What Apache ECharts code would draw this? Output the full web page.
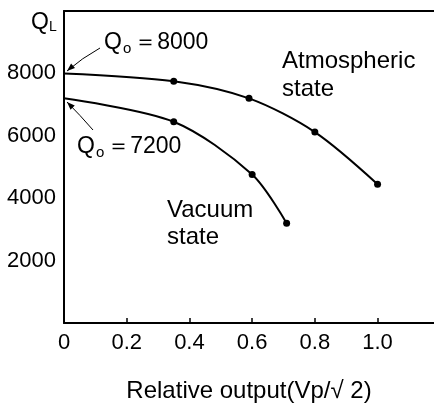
<!DOCTYPE html>
<html><head><meta charset="utf-8">
<script src="https://cdn.jsdelivr.net/npm/echarts@6/dist/echarts.min.js"></script>
<style>html,body{margin:0;padding:0;background:#fff}#c{width:434px;height:405px}</style>
</head><body><div id="c"></div>
<script>
const xAtm = [0, 0.35, 0.59, 0.80, 1.0];
const yAtm = [8000, 7750, 7200, 6120, 4450];
const xVac = [0, 0.35, 0.60, 0.71];
const yVac = [7200, 6450, 4760, 3200];
const yTicks = [2000, 4000, 6000, 8000];
const xTicks = [0, 0.2, 0.4, 0.6, 0.8, 1.0];

const FONT = 'Liberation Sans';
function pts(xs, ys) {
  return xs.map((x, i) => ({ value: [x, ys[i]], symbol: i === 0 ? 'none' : 'circle' }));
}
function arrow(x1, y1, cx, cy, x2, y2) {
  const dx = x2 - cx, dy = y2 - cy, L = Math.hypot(dx, dy);
  const ux = dx / L, uy = dy / L, len = 8, w = 3;
  const bx = x2 - ux * len, by = y2 - uy * len;
  return [
    { type: 'bezierCurve', shape: { x1, y1, x2, y2, cpx1: cx, cpy1: cy },
      style: { stroke: '#000', lineWidth: 1, fill: null } },
    { type: 'polygon', shape: { points: [[x2, y2], [bx - uy * w, by + ux * w], [bx + uy * w, by - ux * w]] },
      style: { fill: '#000' } }
  ];
}
const chart = echarts.init(document.getElementById('c'));
const txt = (x, y, text, size, rich) => ({ type: 'text', x, y, style: { text, font: size + 'px ' + FONT, fill: '#000', verticalAlign: 'middle', rich } });
const rich = { s: { fontSize: 15, fontFamily: FONT, padding: [11, 3, 0, 1] }, b: { fontSize: 23, fontFamily: FONT } };
chart.setOption({
  animation: false,
  grid: { left: 64, right: 0, top: 11, bottom: 82, outerBoundsMode: 'none', containLabel: false },
  xAxis: [{
    type: 'value', min: 0, max: 1.18, interval: 0.2,
    axisLine: { lineStyle: { color: '#000', width: 2 } },
    axisTick: { inside: true, length: 5, lineStyle: { color: '#000', width: 1.5 } },
    splitLine: { show: false },
    axisLabel: { color: '#000', fontSize: 22, fontFamily: FONT, margin: 9, showMaxLabel: false,
      formatter: v => { const t = xTicks.find(k => Math.abs(k - v) < 1e-9); return t === undefined ? '' : (t === 0 ? '0' : t.toFixed(1)); } },
    name: 'Relative output(Vp/\u221A 2)', nameLocation: 'middle', nameGap: 56,
    nameTextStyle: { color: '#000', fontSize: 24, fontFamily: FONT }
  }, {
    type: 'value', position: 'top', min: 0, max: 1.18, interval: 0.2,
    axisLine: { show: true, onZero: false, lineStyle: { color: '#000', width: 2 } },
    axisTick: { show: false }, axisLabel: { show: false }, splitLine: { show: false }
  }],
  yAxis: {
    type: 'value', min: 0, max: 10000, interval: 2000,
    axisLine: { show: true, lineStyle: { color: '#000', width: 2 } },
    axisTick: { show: false }, splitLine: { show: false },
    axisLabel: { color: '#000', fontSize: 22, fontFamily: FONT, margin: 8,
      formatter: v => (yTicks.includes(v) ? String(v) : '') }
  },
  series: [
    { type: 'line', data: pts(xAtm, yAtm), smooth: 0.3, symbolSize: 7,
      lineStyle: { color: '#000', width: 2 }, itemStyle: { color: '#000' } },
    { type: 'line', data: pts(xVac, yVac), smooth: 0.3, symbolSize: 7,
      lineStyle: { color: '#000', width: 2 }, itemStyle: { color: '#000' } }
  ],
  graphic: [
    txt(31, 23, '{b|Q}{s|L}', 23, { b: { fontSize: 23, fontFamily: FONT }, s: { fontSize: 14, fontFamily: FONT, padding: [9, 0, 0, 0] } }),
    txt(104, 43, '{b|Q}{s|o}{b|\uFF1D8000}', 23, rich),
    txt(77, 147, '{b|Q}{s|o}{b|\uFF1D7200}', 23, rich),
    txt(282, 61, 'Atmospheric', 24),
    txt(282, 89, 'state', 24),
    txt(167, 210, 'Vacuum', 24),
    txt(167, 237, 'state', 24),
    ...arrow(100, 48, 82, 58, 67, 71),
    ...arrow(93, 130, 80, 115, 67, 102)
  ]
});
</script></body></html>
